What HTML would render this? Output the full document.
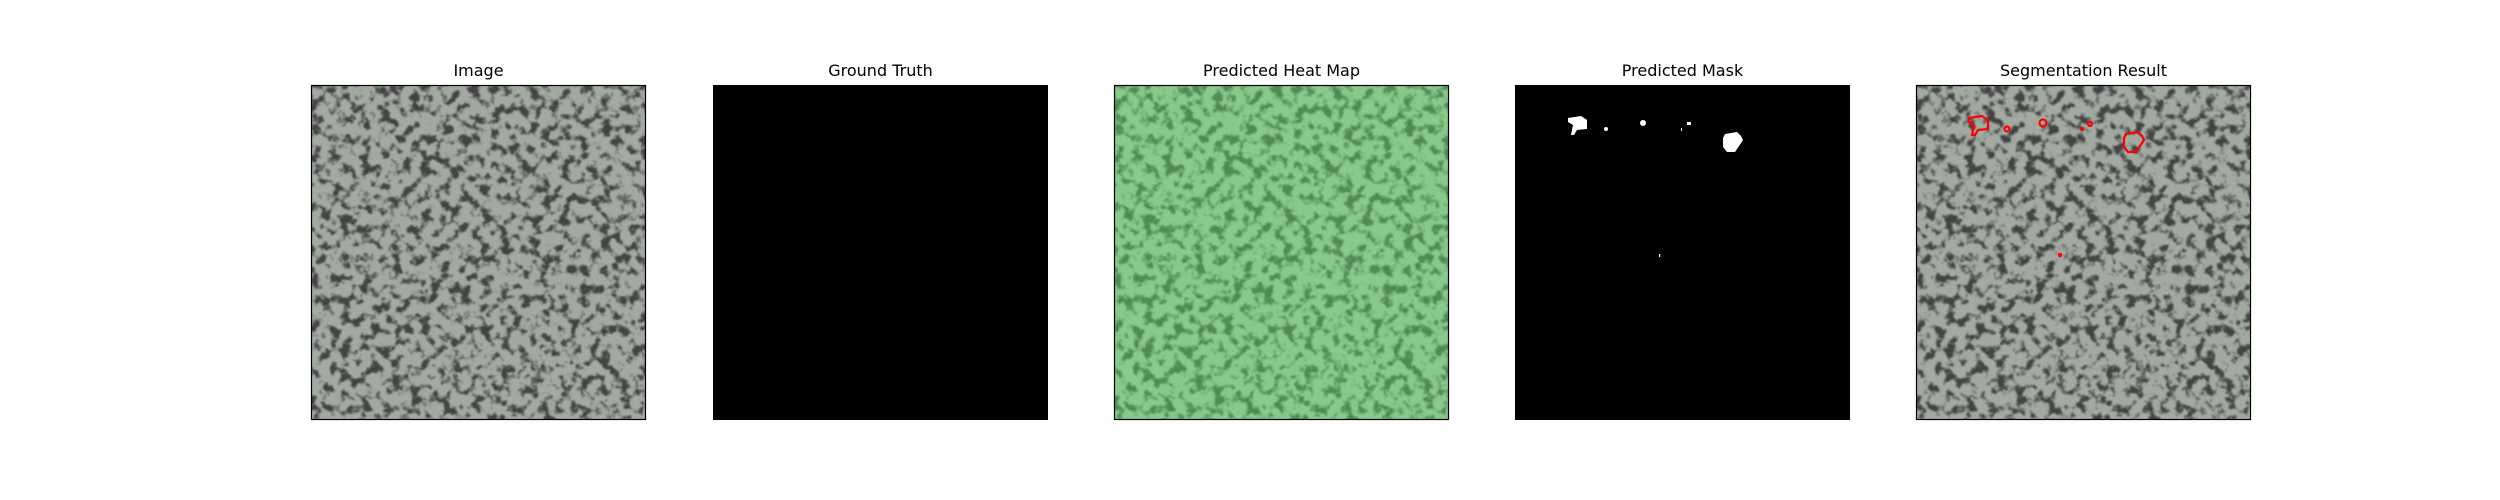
<!DOCTYPE html>
<html><head><meta charset="utf-8"><style>
html,body{margin:0;padding:0;background:#fff;width:2500px;height:500px;overflow:hidden}
svg{display:block}
text{font-family:"DejaVu Sans","Liberation Sans",sans-serif;font-size:16px;fill:#000}
</style></head><body>
<svg width="2500" height="500" viewBox="0 0 2500 500">
<defs>
<filter id="spotsG" x="0" y="0" width="100%" height="100%" color-interpolation-filters="sRGB">
<feTurbulence type="fractalNoise" baseFrequency="0.1" numOctaves="3" seed="7" result="n"/>
<feColorMatrix in="n" type="matrix" values="0 0 0 0 0  0 0 0 0 0  0 0 0 0 0  1 0 0 0 0" result="a"/>
<feComponentTransfer in="a" result="t"><feFuncA type="linear" slope="6" intercept="-2.95"/></feComponentTransfer>
<feGaussianBlur in="t" stdDeviation="0.8" result="b"/>
<feFlood flood-color="#4f8a54" result="f"/>
<feComposite in="f" in2="b" operator="in"/>
</filter>
<filter id="spotsD" x="0" y="0" width="100%" height="100%" color-interpolation-filters="sRGB">
<feTurbulence type="fractalNoise" baseFrequency="0.1" numOctaves="3" seed="7" result="n"/>
<feColorMatrix in="n" type="matrix" values="0 0 0 0 0  0 0 0 0 0  0 0 0 0 0  1 0 0 0 0" result="a"/>
<feComponentTransfer in="a" result="t"><feFuncA type="linear" slope="6" intercept="-2.95"/></feComponentTransfer>
<feGaussianBlur in="t" stdDeviation="0.8" result="b"/>
<feFlood flood-color="#434442" result="f"/>
<feComposite in="f" in2="b" operator="in"/>
</filter>
</defs>

<g transform="translate(311,85)">
<text x="167.5" y="-9" text-anchor="middle">Image</text>
<rect width="335" height="335" fill="#a2aaa2"/>
<rect width="335" height="335" fill="#000" filter="url(#spotsD)"/>
<rect x="0.5" y="0.5" width="334" height="334" fill="none" stroke="#000" stroke-width="1.2"/>
</g>

<g transform="translate(713,85)">
<text x="167.5" y="-9" text-anchor="middle">Ground Truth</text>
<rect width="335" height="335" fill="#000"/>
</g>

<g transform="translate(1114,85)">
<text x="167.5" y="-9" text-anchor="middle">Predicted Heat Map</text>
<rect width="335" height="335" fill="#88c98c"/>
<rect width="335" height="335" fill="#000" filter="url(#spotsG)"/>
<rect x="0.5" y="0.5" width="334" height="334" fill="none" stroke="#000" stroke-width="1.2"/>
</g>

<g transform="translate(1515,85)">
<text x="167.5" y="-9" text-anchor="middle">Predicted Mask</text>
<rect width="335" height="335" fill="#000"/>
<g fill="#fff">
<path d="M53,33 L66,31 L72,35 L72,44 L62,45 L59,50 L56,50 L58,40 L53,37 Z"/>
<circle cx="91" cy="44" r="2"/>
<circle cx="128" cy="38" r="3"/>
<rect x="172" y="37" width="4" height="3"/>
<rect x="166" y="43" width="1" height="3"/>
<path d="M210,49 L222,47 L226,51 L228,55 L224,61 L220,67 L212,67 L208,62 L208,53 Z"/>
<rect x="144" y="169" width="1.2" height="3"/>
</g>
</g>

<g transform="translate(1916,85)">
<text x="167.5" y="-9" text-anchor="middle">Segmentation Result</text>
<rect width="335" height="335" fill="#a2aaa2"/>
<rect width="335" height="335" fill="#000" filter="url(#spotsD)"/>
<g fill="none" stroke="#ff0000" stroke-width="2.2">
<path d="M53,33 L66,31 L72,35 L72,44 L62,45 L59,50 L56,50 L58,40 L53,37 Z"/>
<circle cx="91" cy="44" r="2.5"/>
<circle cx="127" cy="38" r="3.5"/>
<circle cx="174" cy="39" r="2"/>
<circle cx="166" cy="44" r="1"/>
<path d="M210,49 L222,47 L226,51 L228,55 L224,61 L220,67 L212,67 L208,62 L208,53 Z"/>
<circle cx="144" cy="170" r="1.2"/>
</g>
<rect x="0.5" y="0.5" width="334" height="334" fill="none" stroke="#000" stroke-width="1.2"/>
</g>
</svg>
</body></html>
